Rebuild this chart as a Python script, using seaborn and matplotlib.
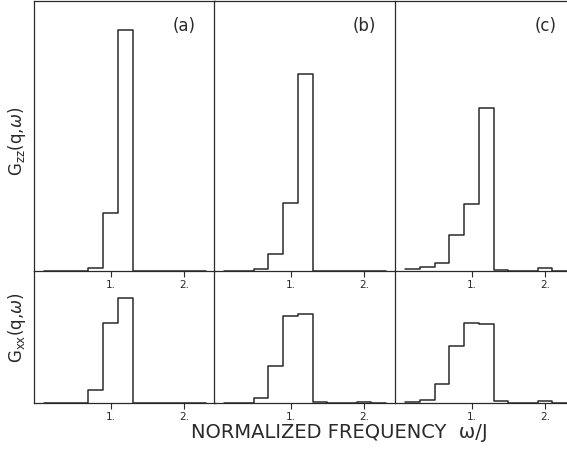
import numpy as np
import matplotlib
matplotlib.use('Agg')
import matplotlib.pyplot as plt
import seaborn as sns

# bin centres of the frequency histogram (omega / J), bins 0.2 wide
freq = [0.2, 0.4, 0.6, 0.8, 1.0, 1.2, 1.4, 1.6, 1.8, 2.0, 2.2]
binEdges = [0.1, 0.3, 0.5, 0.7, 0.9, 1.1, 1.3, 1.5, 1.7, 1.9, 2.1, 2.3]

# G_zz(q, w), arbitrary units, panels (a) (b) (c)
gzzA = [0, 0, 0, 0.03, 0.58, 2.41, 0, 0, 0, 0, 0]
gzzB = [0, 0, 0.02, 0.17, 0.68, 1.97, 0, 0, 0, 0, 0]
gzzC = [0.015, 0.035, 0.08, 0.36, 0.67, 1.63, 0.01, 0, 0, 0.03, 0]

# G_xx(q, w), arbitrary units, panels (a) (b) (c)
gxxA = [0, 0, 0, 0.127, 0.80, 1.05, 0, 0, 0, 0, 0]
gxxB = [0, 0, 0.043, 0.367, 0.867, 0.89, 0.01, 0, 0, 0.01, 0]
gxxC = [0.01, 0.027, 0.187, 0.57, 0.80, 0.783, 0.017, 0, 0, 0.017, 0]

panelNames = ['(a)', '(b)', '(c)']
tickLabels = ['1.', '2.']

sns.set_style('white')
plt.rcParams['font.family'] = ['DejaVu Sans']

ink = '#2a2a2a'
fig = plt.figure(figsize=(5.67, 4.5), dpi=100)

lefts = [34 / 567, 214 / 567, 395 / 567]
width = 181 / 567
topRow = [gzzA, gzzB, gzzC]
botRow = [gxxA, gxxB, gxxC]

for i in range(3):
    axTop = fig.add_axes([lefts[i], 1 - 270.7 / 450, width, 270 / 450])
    axBot = fig.add_axes([lefts[i], 1 - 402.7 / 450, width, 132 / 450])
    axTop.set_zorder(2)
    for ax, vals, ymax in [(axTop, topRow[i], 2.70), (axBot, botRow[i], 1.32)]:
        ax.set_facecolor('none')
        sns.histplot(x=freq, weights=vals, bins=binEdges, element='step',
                     fill=False, color=ink, linewidth=1.1, ax=ax)
        ax.set_xlim(-0.04, 2.42)
        ax.set_ylim(0, ymax)
        ax.set_yticks([])
        ax.set_xticks([1, 2])
        ax.set_xticklabels(tickLabels, fontsize=7.5, color=ink)
        ax.tick_params(axis='x', direction='out', length=4, width=0.8,
                       color=ink, pad=3, bottom=True)
        ax.set_xlabel('')
        ax.set_ylabel('')
        for side in ['left', 'bottom', 'top']:
            ax.spines[side].set_color(ink)
            ax.spines[side].set_linewidth(0.9)
        ax.spines['right'].set_visible(False)
    axBot.spines['top'].set_visible(False)
    axTop.text(0.83, 0.905, panelNames[i], transform=axTop.transAxes,
               ha='center', va='center', fontsize=12, color=ink)
    if i == 0:
        axTop.set_ylabel(r'G$_{\rm zz}$(q,$\omega$)', fontsize=12, color=ink)
        axTop.yaxis.set_label_coords(-0.035, 0.48)
        axBot.set_ylabel(r'G$_{\rm xx}$(q,$\omega$)', fontsize=12, color=ink)
        axBot.yaxis.set_label_coords(-0.035, 0.57)

fig.text(339 / 567, 1 - 433 / 450, 'NORMALIZED FREQUENCY  \u03c9/J',
         ha='center', va='center', fontsize=14, color=ink)

plt.savefig('out.png', dpi=100)
